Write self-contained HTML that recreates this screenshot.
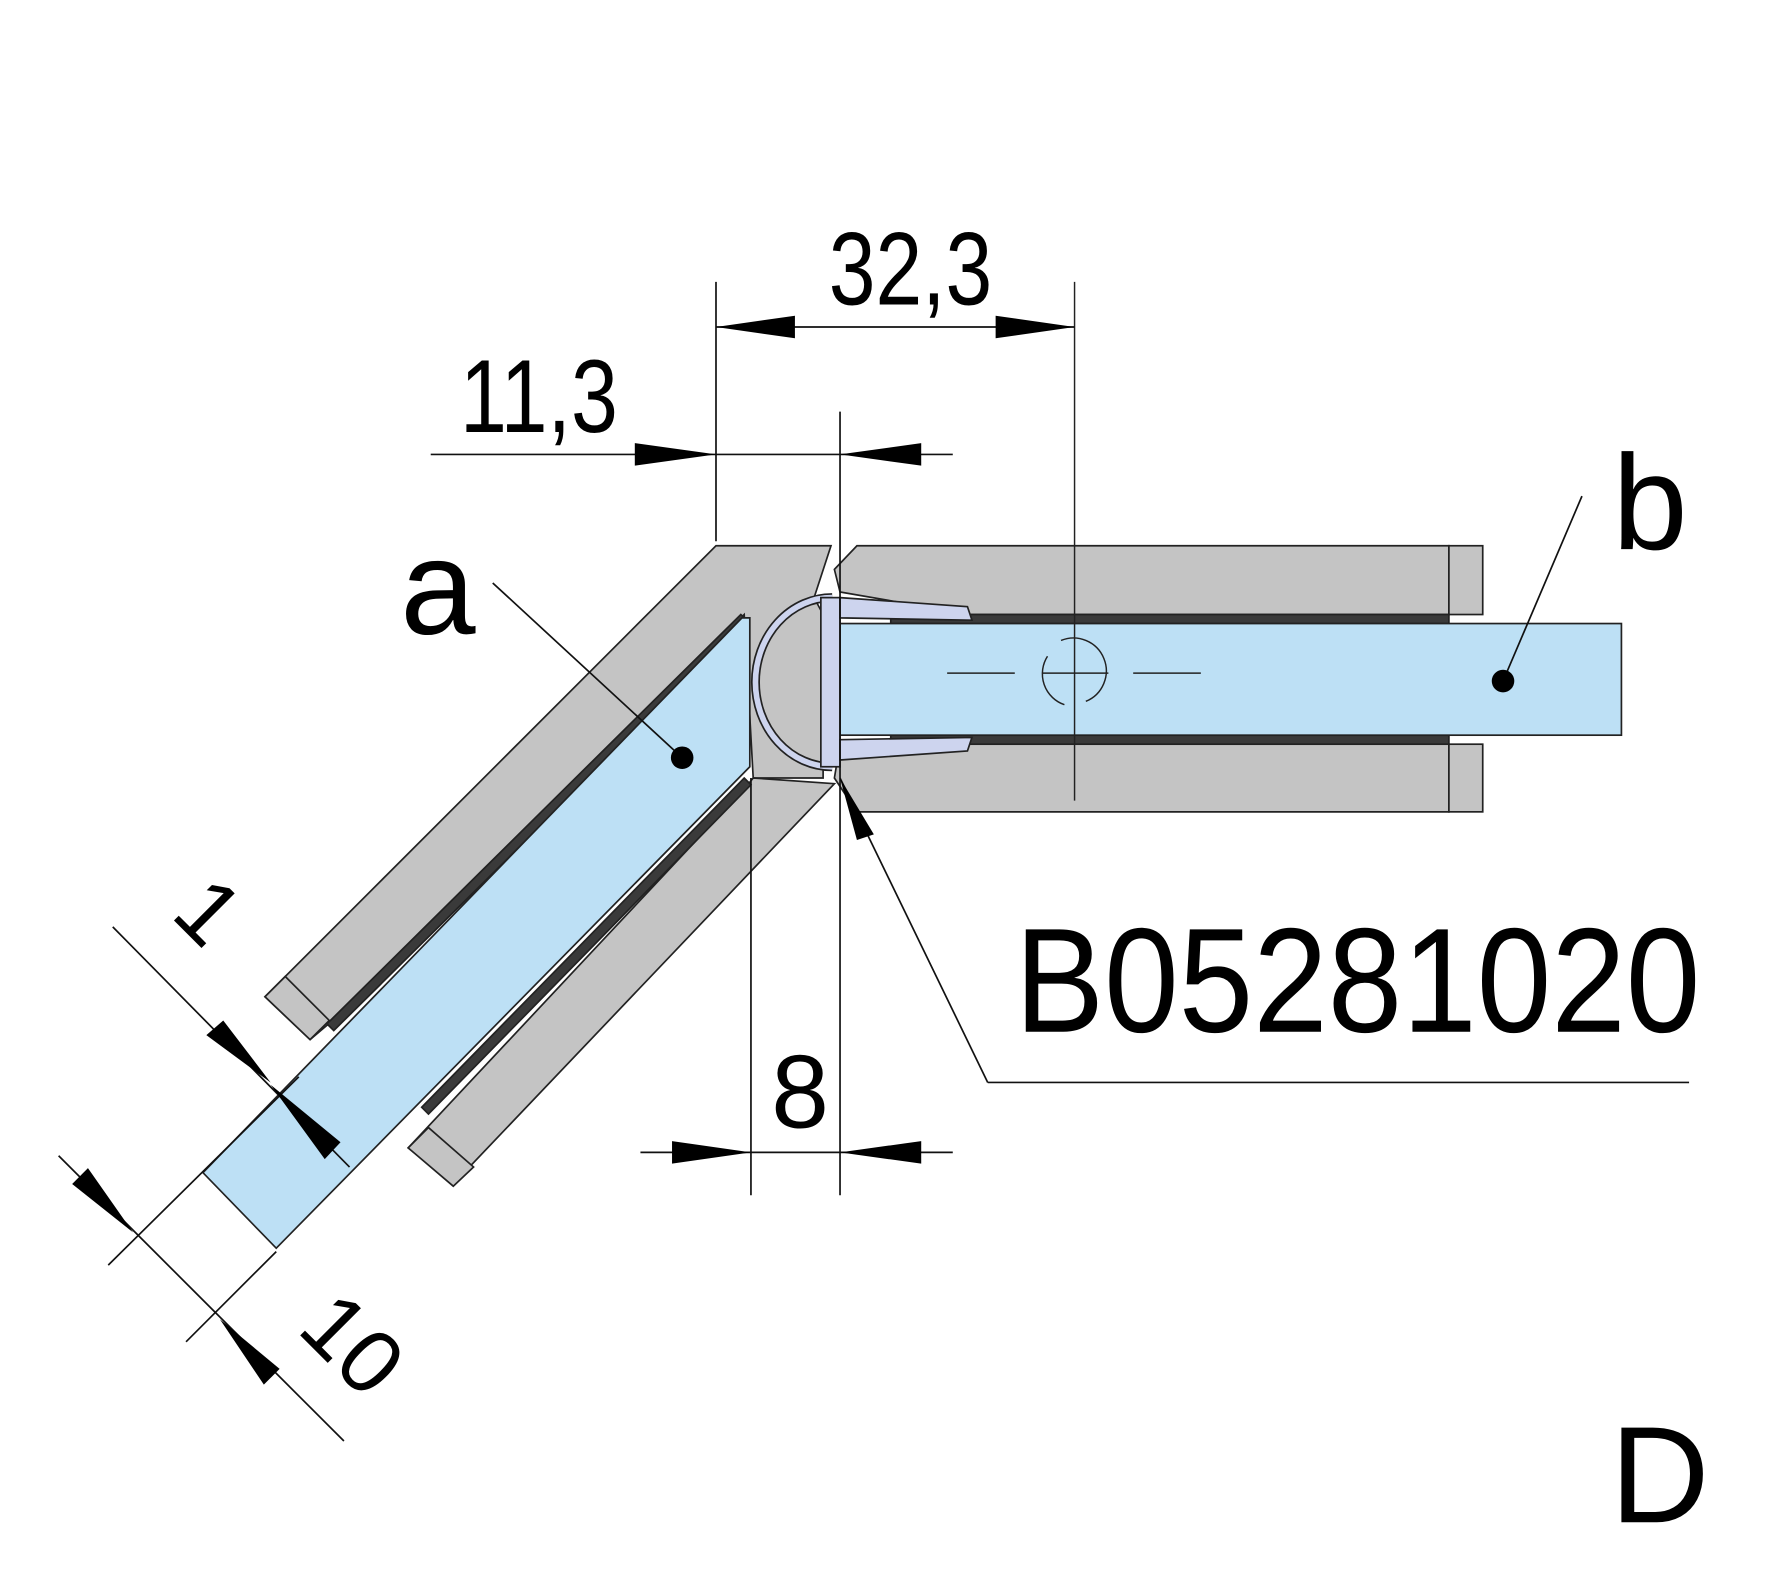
<!DOCTYPE html>
<html><head><meta charset="utf-8"><style>
html,body{margin:0;padding:0;background:#fff;}
svg{display:block;}
text{font-family:"Liberation Sans",sans-serif;fill:#000;}
</style></head><body>
<svg width="1768" height="1591" viewBox="0 0 1568 1411" preserveAspectRatio="none" xmlns="http://www.w3.org/2000/svg">
<rect width="1568" height="1411" fill="#fff"/>
<g stroke="#222" stroke-width="1.5">
<polygon points="760,484 1285,484 1285,545 860,545 745,525 740,505" fill="#c4c4c4"/>
<rect x="1285" y="484" width="30" height="61" fill="#c4c4c4"/>
<polygon points="745,660 1285,660 1285,720 760,720 740,690" fill="#c4c4c4"/>
<rect x="1285" y="660" width="30" height="60" fill="#c4c4c4"/>
<rect x="790" y="545" width="495" height="8" fill="#3a3a3a"/>
<rect x="790" y="652" width="495" height="8" fill="#3a3a3a"/>
<polygon points="635,484 737,484 722,530 730,545 730,690 668,690 660,545 295,905 275,922 235,884" fill="#c4c4c4"/>
<polygon points="253,866 292,905 275,922 235,884" fill="#c4c4c4"/>
<polygon points="657,545 663,551 296,914 290,908" fill="#3a3a3a"/>
<polygon points="668,690 740,695 402,1050 362,1018 660,700" fill="#c4c4c4"/>
<polygon points="380,1000 420,1035 402,1052 362,1018" fill="#c4c4c4"/>
<polygon points="660,690 666,696 380,988 374,982" fill="#3a3a3a"/>
<polygon points="658,548 665,548 665,680 245,1107 180,1040" fill="#bde0f5"/>
<rect x="745" y="553" width="693" height="99" fill="#bde0f5"/>
</g>
<path d="M738,530 A68,75 0 0 0 738,680" fill="none" stroke="#222" stroke-width="8"/>
<path d="M738,530 A68,75 0 0 0 738,680" fill="none" stroke="#cdd4ee" stroke-width="5"/>
<g stroke="#222" stroke-width="1.5">
<rect x="728" y="530" width="17" height="150" fill="#cdd4ee"/>
<polygon points="745,530 858,538 862,550 745,548" fill="#cdd4ee"/>
<polygon points="745,674 858,666 862,654 745,656" fill="#cdd4ee"/>
</g>
<g stroke="#222" stroke-width="1.3" fill="none">
<path d="M941,568 A29,29 0 0 1 963,622"/><path d="M929,582 A29,29 0 0 0 944,625"/>
<line x1="840" y1="597" x2="900" y2="597"/><line x1="925" y1="597" x2="983" y2="597"/><line x1="1005" y1="597" x2="1065" y2="597"/>
<line x1="953" y1="250" x2="953" y2="710"/>
</g>
<g stroke="#111" stroke-width="1.5" fill="none">
<line x1="635" y1="250" x2="635" y2="480"/>
<line x1="635" y1="290" x2="953" y2="290"/>
<line x1="382" y1="403" x2="845" y2="403"/>
<line x1="745" y1="365" x2="745" y2="1060"/>
<line x1="666" y1="690" x2="666" y2="1060"/>
<line x1="568" y1="1022" x2="845" y2="1022"/>
<line x1="437" y1="517" x2="605" y2="672"/>
<line x1="1403" y1="440" x2="1333" y2="604"/>
<line x1="745" y1="690" x2="876" y2="960"/><line x1="876" y1="960" x2="1498" y2="960"/>
<line x1="100" y1="822" x2="310" y2="1035"/>
<line x1="52" y1="1025" x2="305" y2="1278"/>
<line x1="96" y1="1122" x2="265" y2="955"/>
<line x1="165" y1="1190" x2="245" y2="1110"/>
</g>
<g fill="#000">
<polygon points="635,290 705,280 705,300"/><polygon points="953,290 883,280 883,300"/>
<polygon points="635,403 563,393 563,413"/><polygon points="745,403 817,393 817,413"/>
<polygon points="666,1022 596,1012 596,1032"/><polygon points="745,1022 817,1012 817,1032"/>
<polygon points="240,960 183,918 198,905"/><polygon points="240,962 302,1013 288,1028"/>
<polygon points="118,1093 64,1050 78,1036"/><polygon points="195,1170 248,1214 234,1228"/>
<polygon points="745,690 775,740 760,745"/>
<circle cx="605" cy="672" r="10"/><circle cx="1333" cy="604" r="10"/>
</g>
<text x="735" y="270" font-size="92" textLength="145" lengthAdjust="spacingAndGlyphs">32,3</text>
<text x="408" y="383" font-size="92" textLength="140" lengthAdjust="spacingAndGlyphs">11,3</text>
<text x="355" y="562" font-size="120">a</text>
<text x="1430" y="487" font-size="120">b</text>
<text x="684" y="1000" font-size="92">8</text>
<text x="900" y="915" font-size="132" textLength="608" lengthAdjust="spacingAndGlyphs">B05281020</text>
<text x="1428" y="1350" font-size="122">D</text>
<text transform="translate(150,812) rotate(45)" font-size="80">1</text>
<text transform="translate(262,1180) rotate(45)" font-size="80">10</text>
</svg>
</body></html>
